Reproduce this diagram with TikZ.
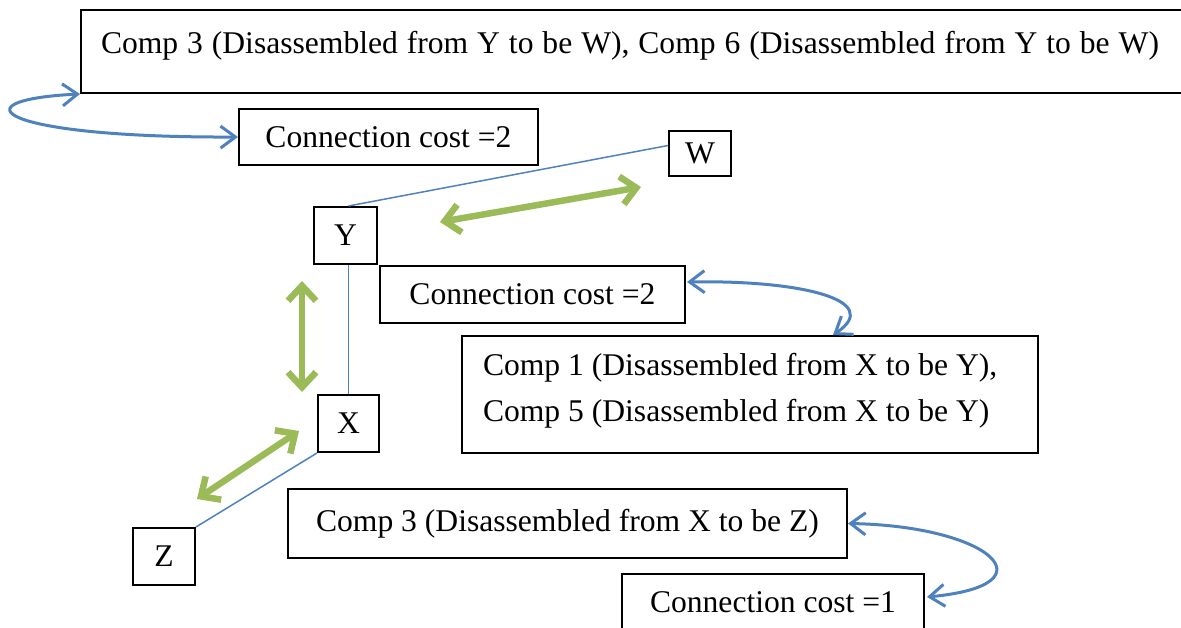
\documentclass[tikz,border=0pt]{standalone}
\usepackage{fontspec}
\setmainfont{Liberation Serif}
\usetikzlibrary{arrows.meta,calc}
\definecolor{ablue}{RGB}{79,129,189}
\definecolor{agreen}{RGB}{155,187,89}
\begin{document}
\begin{tikzpicture}[x=1pt,y=-1pt, font=\fontsize{31.6pt}{46pt}\selectfont,
  box/.style={draw=black, line width=2pt, inner sep=0pt, anchor=north west},
  link/.style={draw=ablue, line width=1.5pt},
  curvy/.style={draw=ablue, line width=3pt, {Straight Barb[length=15pt,width=22pt]}-{Straight Barb[length=15pt,width=22pt]}},
  bigarrow/.style={draw=agreen, line width=6.5pt, {Straight Barb[length=15pt,width=28pt]}-{Straight Barb[length=15pt,width=28pt]}}]
\useasboundingbox (0,0) rectangle (1181,628);
\node[box] (top) at (80,9) {\parbox[c][83pt][t]{1115pt}{\vspace*{21pt}\hspace*{20pt}\makebox[1058pt][s]{Comp 3 (Disassembled from Y to be W), Comp 6 (Disassembled from Y to be W)}}};
\node[box, minimum width=299pt, minimum height=56pt] (cc2a) at (238,108) {Connection cost =2};
\node[box, minimum width=62pt, minimum height=45pt] (W) at (668,130) {W};
\node[box, minimum width=63pt, minimum height=57pt] (Y) at (313,206) {Y};
\node[box, minimum width=305pt, minimum height=57pt] (cc2b) at (379,265) {Connection cost =2};
\node[box] (c1) at (461,335) {\parbox[c][117pt][t]{576pt}{\vspace*{17pt}\hspace*{21pt}Comp 1 (Disassembled from X to be Y),\\\hspace*{21pt}Comp 5 (Disassembled from X to be Y)}};
\node[box, minimum width=61pt, minimum height=57pt] (X) at (317,394) {X};
\node[box, minimum width=62pt, minimum height=57pt] (Z) at (132,527) {Z};
\node[box, minimum width=559pt, minimum height=69pt] (c3) at (287,488) {Comp 3 (Disassembled from X to be Z)};
\node[box, minimum width=302pt, minimum height=56pt] (cc1) at (621,573) {Connection cost =1};
% thin blue links
\draw[link] (X.north |- Y.north) -- ($(W.north west)!0.33!(W.south west)$);
\draw[link] (X.north |- Y.south) -- (X.north);
\draw[link] (X.south west) -- (Z.north east);
% green double arrows
\coordinate (g1) at (440,222);
\coordinate (g2) at (641,187);
\coordinate (g3) at (302,281);
\coordinate (g4) at (302,392);
\coordinate (g5) at (299,431);
\coordinate (g6) at (197,499);
\draw[bigarrow] (g1) -- (g2);
\draw[bigarrow] (g3) -- (g4);
\draw[bigarrow] (g5) -- (g6);
% blue curved double arrows
\draw[curvy] (top.south west) .. controls (-45,100) and (-5,138) .. (cc2a.west);
\draw[curvy] ($(cc2b.north east)+(1,17)$) .. controls (800,280) and (885,300) .. ($(c1.north west)+(372,0)$);
\draw[curvy] (c3.east) .. controls (990,526) and (1055,585) .. ($(cc1.north east)+(2,24)$);
\end{tikzpicture}
\end{document}
